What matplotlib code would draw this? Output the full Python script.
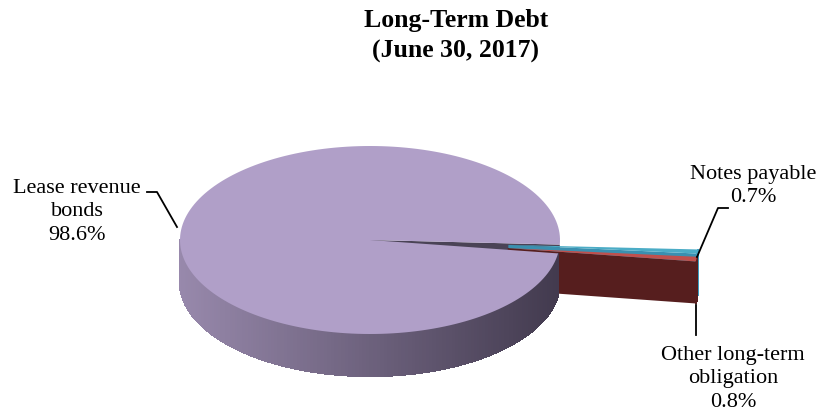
import numpy as np
import matplotlib.pyplot as plt
from matplotlib.patches import Polygon

# share of long-term debt, June 30, 2017
categories = ["Lease revenue\nbonds", "Other long-term\nobligation", "Notes payable"]
shares = [98.6, 0.8, 0.7]
pct_labels = ["98.6%", "0.8%", "0.7%"]

top_colors = ["#b09fc8", "#c0504d", "#4bacc6"]
wall_colors = ["#4a4356", "#561e1e", "#3a90b0"]

# pie geometry in pixel space
cx, cy = 370, 240
rx, ry = 190, 94
depth = 42
start_deg = -2.8
explode = [0.0, 0.73, 0.73]

fig = plt.figure(figsize=(8.2, 4.13), dpi=100)
ax = fig.add_axes([0, 0, 1, 1])
ax.set_xlim(0, 820)
ax.set_ylim(413, 0)
ax.axis("off")

plt.rcParams["font.family"] = ["Liberation Serif", "DejaVu Serif"]


def pt(theta, r=1.0, off=(0.0, 0.0), z=0.0):
    t = np.radians(theta)
    return (cx + off[0] + rx * r * np.cos(t), cy + off[1] - ry * r * np.sin(t) + z)


def arc(t0, t1, off, z=0.0, n=200):
    ts = np.linspace(t0, t1, n)
    return [pt(t, 1.0, off, z) for t in ts]


# slice angle ranges from the shares
total = sum(shares)
spans = [s / total * 360 for s in shares]
ranges = []
a = start_deg
for sp in spans:
    ranges.append((a, a + sp))
    a += sp

offsets = []
for (t0, t1), e in zip(ranges, explode):
    mid = np.radians((t0 + t1) / 2)
    offsets.append((rx * e * np.cos(mid), -ry * e * np.sin(mid)))


def wall(theta, off, color, zorder):
    poly = [pt(theta, 0, off), pt(theta, 1, off), pt(theta, 1, off, depth), pt(theta, 0, off, depth)]
    ax.add_patch(Polygon(poly, closed=True, fc=color, ec="none", zorder=zorder))


def top(t0, t1, off, color, zorder):
    poly = [pt(0, 0, off)] + arc(t0, t1, off)
    ax.add_patch(Polygon(poly, closed=True, fc=color, ec="none", zorder=zorder))


def side(t0, t1, off, color_fn, zorder, n=160):
    ts = np.linspace(t0, t1, n + 1)
    for i in range(n):
        a0, a1 = ts[i], ts[i + 1]
        poly = [pt(a0, 1, off), pt(a1, 1, off), pt(a1, 1, off, depth), pt(a0, 1, off, depth)]
        xm = (poly[0][0] + poly[1][0]) / 2
        c = color_fn(xm)
        ax.add_patch(Polygon(poly, closed=True, fc=c, ec=c, lw=1.0,
                             antialiased=False, zorder=zorder))


def lease_side_color(x):
    f = np.clip((x - (cx - rx)) / (2 * rx), 0, 1)
    c0 = np.array([152, 137, 172]) / 255
    c1 = np.array([66, 58, 78]) / 255
    return tuple(c0 + (c1 - c0) * f)


# lease revenue bonds: visible cut wall first
(l0, l1) = ranges[0]
wall(l0, offsets[0], wall_colors[0], 1)

# exploded small slices, back one first
for i in [2, 1]:
    t0, t1 = ranges[i]
    off = offsets[i]
    wall(t0, off, wall_colors[i], 2)
    edge = wall_colors[i] if i == 1 else "#3a9cc0"
    side(t0, t1, off, lambda x, c=edge: c, 2, n=6)
    top(t0, t1, off, top_colors[i], 3)

# main slice on top: side first so its rim edge stays under the top face
side(180, l1, offsets[0], lease_side_color, 4)
top(l0, l1, offsets[0], top_colors[0], 5)

# title
ax.text(456, 21, "Long-Term Debt", ha="center", va="center", fontsize=18.5, fontweight="bold")
ax.text(456, 51, "(June 30, 2017)", ha="center", va="center", fontsize=18.5, fontweight="bold")

# labels and leader lines
ax.text(77, 212, categories[0] + "\n" + pct_labels[0], ha="center", va="center",
        fontsize=16, linespacing=1.3)
ax.plot([147, 157, 177], [192, 192, 227], color="black", lw=1.3, zorder=6)

ax.text(753, 186, categories[2] + "\n" + pct_labels[2], ha="center", va="center",
        fontsize=16, linespacing=1.3)
ax.plot([728, 718, 697], [208, 208, 257], color="black", lw=1.3, zorder=6)

ax.text(733, 379, categories[1] + "\n" + pct_labels[1], ha="center", va="center",
        fontsize=16, linespacing=1.3)
ax.plot([696, 696], [305, 335], color="black", lw=1.3, zorder=6)

fig.savefig("out.png", dpi=100)
